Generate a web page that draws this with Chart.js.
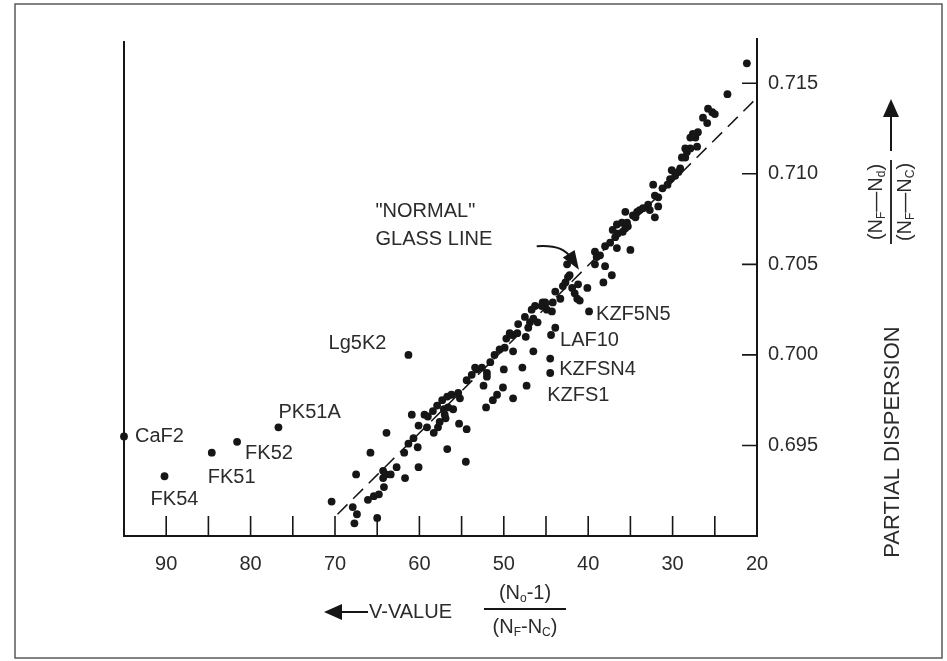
<!DOCTYPE html>
<html>
<head>
<meta charset="utf-8">
<title>Partial dispersion vs V-value</title>
<script src="https://cdn.jsdelivr.net/npm/chart.js@4.4.1/dist/chart.umd.min.js"></script>
<style>
  body { margin: 0; background: #fff; }
  #wrap { width: 947px; height: 661px; }
</style>
</head>
<body>
<div id="wrap"><canvas id="grafica" width="947" height="661"></canvas></div>
<script>
// glass catalog: Abbe number (V) against partial dispersion (nF-nd)/(nF-nC)
const vValues = [
    70.4, 67.5, 67.9, 67.4, 67.7, 65.0, 65.8, 63.9, 60.9, 66.1,
    65.4, 64.8, 64.2, 64.3, 64.0, 63.4, 64.3, 62.7, 61.7, 60.1,
    61.8, 61.3, 60.7, 60.2, 60.1, 59.4, 59.0, 59.1, 58.3, 57.8,
    56.9, 56.7, 56.0, 55.3, 54.4, 54.5, 57.9, 57.3, 56.7, 56.2,
    55.4, 55.2, 58.4, 57.1, 56.6, 57.0, 57.6, 54.4, 53.8, 53.2,
    53.4, 52.6, 52.0, 52.0, 51.6, 51.1, 50.5, 49.9, 49.7, 48.9,
    49.0, 48.4, 48.3, 47.5, 47.4, 47.1, 46.9, 46.5, 46.3, 46.0,
    45.4, 44.9, 44.3, 44.2, 43.9, 52.4, 50.0, 47.8, 46.5, 47.3,
    50.1, 50.8, 51.3, 52.1, 48.9, 49.3, 46.7, 45.5, 45.1, 43.3,
    43.0, 42.7, 42.4, 42.2, 41.9, 41.6, 41.3, 41.0, 41.2, 40.1,
    42.5, 39.2, 39.0, 38.6, 38.0, 38.2, 37.2, 38.0, 37.4, 36.8,
    36.5, 36.6, 36.0, 35.6, 35.4, 35.0, 34.7, 34.2, 37.1, 39.2,
    36.6, 35.9, 35.3, 35.6, 34.4, 33.9, 33.5, 32.9, 32.7, 32.3,
    32.1, 31.7, 31.7, 32.1, 31.2, 30.6, 30.3, 30.1, 29.7, 29.3,
    28.5, 28.5, 27.9, 27.1, 27.3, 27.0, 21.2, 23.5, 25.8, 25.3,
    25.0, 26.4, 25.9, 27.6, 27.9, 28.9, 29.1, 28.3, 43.9
];
const pValues = [
    0.6919, 0.6934, 0.6916, 0.6912, 0.6907, 0.6910, 0.6946, 0.6957, 0.6967, 0.6920,
    0.6922, 0.6923, 0.6927, 0.6932, 0.6934, 0.6934, 0.6936, 0.6938, 0.6932, 0.6938,
    0.6946, 0.6951, 0.6954, 0.6949, 0.6961, 0.6967, 0.6966, 0.6960, 0.6957, 0.6960,
    0.6965, 0.6948, 0.6970, 0.6962, 0.6959, 0.6941, 0.6972, 0.6975, 0.6977, 0.6978,
    0.6979, 0.6976, 0.6969, 0.6970, 0.6971, 0.6967, 0.6963, 0.6986, 0.6989, 0.6992,
    0.6993, 0.6993, 0.6990, 0.6988, 0.6996, 0.7000, 0.7003, 0.7004, 0.7009, 0.7002,
    0.7011, 0.7012, 0.7017, 0.7021, 0.7010, 0.7015, 0.7018, 0.7020, 0.7027, 0.7018,
    0.7029, 0.7025, 0.7024, 0.7029, 0.7035, 0.6983, 0.6992, 0.6993, 0.7002, 0.6983,
    0.6982, 0.6978, 0.6975, 0.6971, 0.6976, 0.7012, 0.7025, 0.7027, 0.7029, 0.7031,
    0.7038, 0.7040, 0.7043, 0.7044, 0.7037, 0.7034, 0.7031, 0.7030, 0.7039, 0.7037,
    0.7050, 0.7057, 0.7054, 0.7055, 0.7049, 0.7040, 0.7044, 0.7060, 0.7062, 0.7065,
    0.7067, 0.7072, 0.7073, 0.7070, 0.7073, 0.7058, 0.7077, 0.7079, 0.7069, 0.7050,
    0.7059, 0.7068, 0.7071, 0.7079, 0.7076, 0.7080, 0.7081, 0.7083, 0.7080, 0.7094,
    0.7088, 0.7087, 0.7082, 0.7076, 0.7092, 0.7094, 0.7097, 0.7102, 0.7099, 0.7101,
    0.7109, 0.7114, 0.7114, 0.7115, 0.7120, 0.7123, 0.7161, 0.7144, 0.7136, 0.7134,
    0.7133, 0.7131, 0.7128, 0.7122, 0.7120, 0.7109, 0.7103, 0.7112, 0.7015
];

// glasses called out by name
const labeledNames = ['CaF2', 'FK54', 'FK51', 'FK52', 'PK51A', 'Lg5K2', 'KZF5N5', 'LAF10', 'KZFSN4', 'KZFS1'];
const labeledV = [95.0, 90.2, 84.6, 81.6, 76.7, 61.3, 39.9, 44.4, 44.5, 44.5];
const labeledP = [0.6955, 0.6933, 0.6946, 0.6952, 0.6960, 0.7000, 0.7024, 0.7011, 0.6998, 0.6990];

// "normal" glass line end points
const normalLineV = [69.7, 20];
const normalLineP = [0.6912, 0.7142];

const xTickValues = [90, 85, 80, 75, 70, 65, 60, 55, 50, 45, 40, 35, 30, 25];
const xLabelValues = [90, 80, 70, 60, 50, 40, 30, 20];
const yTickValues = [0.695, 0.700, 0.705, 0.710, 0.715];

const noteLines = ['"NORMAL"', 'GLASS LINE'];
const xTitle = 'V-VALUE';
const yTitle = 'PARTIAL DISPERSION';

// where each name sits relative to its dot (pixels)
const labelPlacement = [
    { dx: 11, dy: 0, align: 'left' },
    { dx: 10, dy: 23, align: 'center' },
    { dx: -4, dy: 25, align: 'left' },
    { dx: 8, dy: 12, align: 'left' },
    { dx: 0, dy: -15, align: 'left' },
    { dx: -22, dy: -11, align: 'right' },
    { dx: 7, dy: 3, align: 'left' },
    { dx: 9, dy: 5, align: 'left' },
    { dx: 9, dy: 11, align: 'left' },
    { dx: -3, dy: 22, align: 'left' }
];

const ink = '#161616';
const textInk = '#2b2b2b';
const fam = "'Liberation Sans', Arial, Helvetica, sans-serif";

function toPoints(xs, ys) {
    return xs.map((v, i) => ({ x: v, y: ys[i] }));
}

// text with subscripts: parts = [[text, isSub], ...], drawn centred on (cx, cy)
function richText(ctx, parts, cx, cy, size) {
    const subSize = Math.round(size * 0.62);
    let w = 0;
    parts.forEach(p => {
        ctx.font = (p[1] ? subSize : size) + 'px ' + fam;
        w += ctx.measureText(p[0]).width;
    });
    let x = cx - w / 2;
    ctx.textAlign = 'left';
    ctx.textBaseline = 'middle';
    parts.forEach(p => {
        ctx.font = (p[1] ? subSize : size) + 'px ' + fam;
        ctx.fillText(p[0], x, p[1] ? cy + size * 0.3 : cy);
        x += ctx.measureText(p[0]).width;
    });
}

function arrowHead(ctx, tx, ty, angle, len, half) {
    ctx.save();
    ctx.translate(tx, ty);
    ctx.rotate(angle);
    ctx.beginPath();
    ctx.moveTo(0, 0);
    ctx.lineTo(-len, -half);
    ctx.lineTo(-len, half);
    ctx.closePath();
    ctx.fill();
    ctx.restore();
}

const paperPlugin = {
    id: 'paper',
    afterDraw(chart) {
        const { ctx, chartArea: a, scales: { x, y } } = chart;
        ctx.save();

        // outer frame
        ctx.strokeStyle = '#5a5a5a';
        ctx.lineWidth = 1.5;
        ctx.strokeRect(15, 4, 927, 654);

        // axes: left, bottom, right
        ctx.strokeStyle = ink;
        ctx.lineWidth = 2;
        ctx.beginPath();
        ctx.moveTo(a.left, a.top + 3);
        ctx.lineTo(a.left, a.bottom);
        ctx.lineTo(a.right, a.bottom);
        ctx.lineTo(a.right, a.top);
        ctx.stroke();

        // ticks point into the plot
        ctx.lineWidth = 1.6;
        ctx.beginPath();
        xTickValues.forEach(v => {
            const px = x.getPixelForValue(v);
            ctx.moveTo(px, a.bottom);
            ctx.lineTo(px, a.bottom - 20);
        });
        yTickValues.forEach(v => {
            const py = y.getPixelForValue(v);
            ctx.moveTo(a.right, py);
            ctx.lineTo(a.right - 15, py);
        });
        ctx.stroke();

        // glass names
        ctx.fillStyle = textInk;
        ctx.font = '20px ' + fam;
        ctx.textBaseline = 'middle';
        labeledNames.forEach((name, i) => {
            const p = labelPlacement[i];
            ctx.textAlign = p.align;
            ctx.fillText(name, x.getPixelForValue(labeledV[i]) + p.dx, y.getPixelForValue(labeledP[i]) + p.dy);
        });

        // "normal" glass line note and its curved pointer
        const nx = x.getPixelForValue(65.2);
        const ny = y.getPixelForValue(0.7079);
        ctx.textAlign = 'left';
        ctx.fillText(noteLines[0], nx, ny);
        ctx.fillText(noteLines[1], nx, ny + 28);

        const sx = x.getPixelForValue(46.1), sy = y.getPixelForValue(0.7060);
        const tx = x.getPixelForValue(41.1), ty = y.getPixelForValue(0.7047);
        ctx.strokeStyle = ink;
        ctx.lineWidth = 1.8;
        ctx.beginPath();
        ctx.moveTo(sx, sy);
        ctx.quadraticCurveTo(sx + 26, sy - 2, tx - 8, ty - 12);
        ctx.stroke();
        ctx.fillStyle = ink;
        arrowHead(ctx, tx, ty, Math.atan2(22, 14), 19, 7);

        // x axis title: arrow, V-VALUE, (No-1)/(NF-NC)
        const by = 612;
        ctx.lineWidth = 2;
        ctx.beginPath();
        ctx.moveTo(336, by);
        ctx.lineTo(368, by);
        ctx.stroke();
        arrowHead(ctx, 324, by, Math.PI, 18, 8);
        ctx.fillStyle = textInk;
        ctx.font = '20px ' + fam;
        ctx.textAlign = 'left';
        ctx.fillText(xTitle, 369, by);
        ctx.strokeStyle = ink;
        ctx.lineWidth = 1.8;
        ctx.beginPath();
        ctx.moveTo(484, 609);
        ctx.lineTo(566, 609);
        ctx.stroke();
        richText(ctx, [['(N', false], ['o', true], ['-1)', false]], 525, 593, 20);
        richText(ctx, [['(N', false], ['F', true], ['-N', false], ['C', true], [')', false]], 525, 627, 20);

        // y axis title, read bottom to top
        ctx.fillStyle = ink;
        ctx.lineWidth = 2;
        ctx.beginPath();
        ctx.moveTo(891, 151);
        ctx.lineTo(891, 110);
        ctx.stroke();
        arrowHead(ctx, 891, 99, -Math.PI / 2, 18, 8);

        ctx.save();
        ctx.translate(891, 202);
        ctx.rotate(-Math.PI / 2);
        ctx.lineWidth = 1.8;
        ctx.beginPath();
        ctx.moveTo(-42, 0);
        ctx.lineTo(42, 0);
        ctx.stroke();
        ctx.fillStyle = textInk;
        richText(ctx, [['(N', false], ['F', true], ['\u2014N', false], ['d', true], [')', false]], 0, -15, 20);
        richText(ctx, [['(N', false], ['F', true], ['\u2014N', false], ['C', true], [')', false]], 0, 14, 20);
        ctx.restore();

        ctx.save();
        ctx.translate(893, 442);
        ctx.rotate(-Math.PI / 2);
        ctx.fillStyle = textInk;
        ctx.font = '22px ' + fam;
        ctx.textAlign = 'center';
        ctx.textBaseline = 'middle';
        ctx.fillText(yTitle, 0, 0);
        ctx.restore();

        ctx.restore();
    }
};

const ctx = document.getElementById('grafica').getContext('2d');

new Chart(ctx, {
    type: 'scatter',
    data: {
        datasets: [
            {
                label: 'glasses',
                data: toPoints(vValues, pValues),
                pointRadius: 3.9,
                pointBackgroundColor: ink,
                pointBorderWidth: 0,
                clip: false
            },
            {
                label: 'named glasses',
                data: toPoints(labeledV, labeledP),
                pointRadius: 3.9,
                pointBackgroundColor: ink,
                pointBorderWidth: 0,
                clip: false
            },
            {
                type: 'line',
                label: 'normal line',
                data: toPoints(normalLineV, normalLineP),
                borderColor: ink,
                borderWidth: 1.5,
                borderDash: [14, 8],
                pointRadius: 0,
                fill: false
            }
        ]
    },
    options: {
        responsive: false,
        animation: false,
        layout: { padding: { left: 124, top: 38, right: 0, bottom: 0 } },
        plugins: {
            legend: { display: false },
            tooltip: { enabled: false }
        },
        scales: {
            x: {
                type: 'linear',
                position: 'bottom',
                reverse: true,
                min: 20,
                max: 95,
                afterBuildTicks: s => { s.ticks = xLabelValues.map(v => ({ value: v })); },
                afterFit: s => { s.height = 125; },
                grid: { display: false, drawTicks: false },
                border: { display: false },
                ticks: {
                    color: textInk,
                    font: { family: fam, size: 20 },
                    padding: 16,
                    maxRotation: 0,
                    autoSkip: false
                }
            },
            y: {
                type: 'linear',
                position: 'right',
                min: 0.690,
                max: 0.7175,
                afterBuildTicks: s => { s.ticks = yTickValues.map(v => ({ value: v })); },
                afterFit: s => { s.width = 190; },
                grid: { display: false, drawTicks: false },
                border: { display: false },
                ticks: {
                    color: textInk,
                    font: { family: fam, size: 20 },
                    padding: 11,
                    callback: v => v.toFixed(3)
                }
            }
        }
    },
    plugins: [paperPlugin]
});
</script>
</body>
</html>
